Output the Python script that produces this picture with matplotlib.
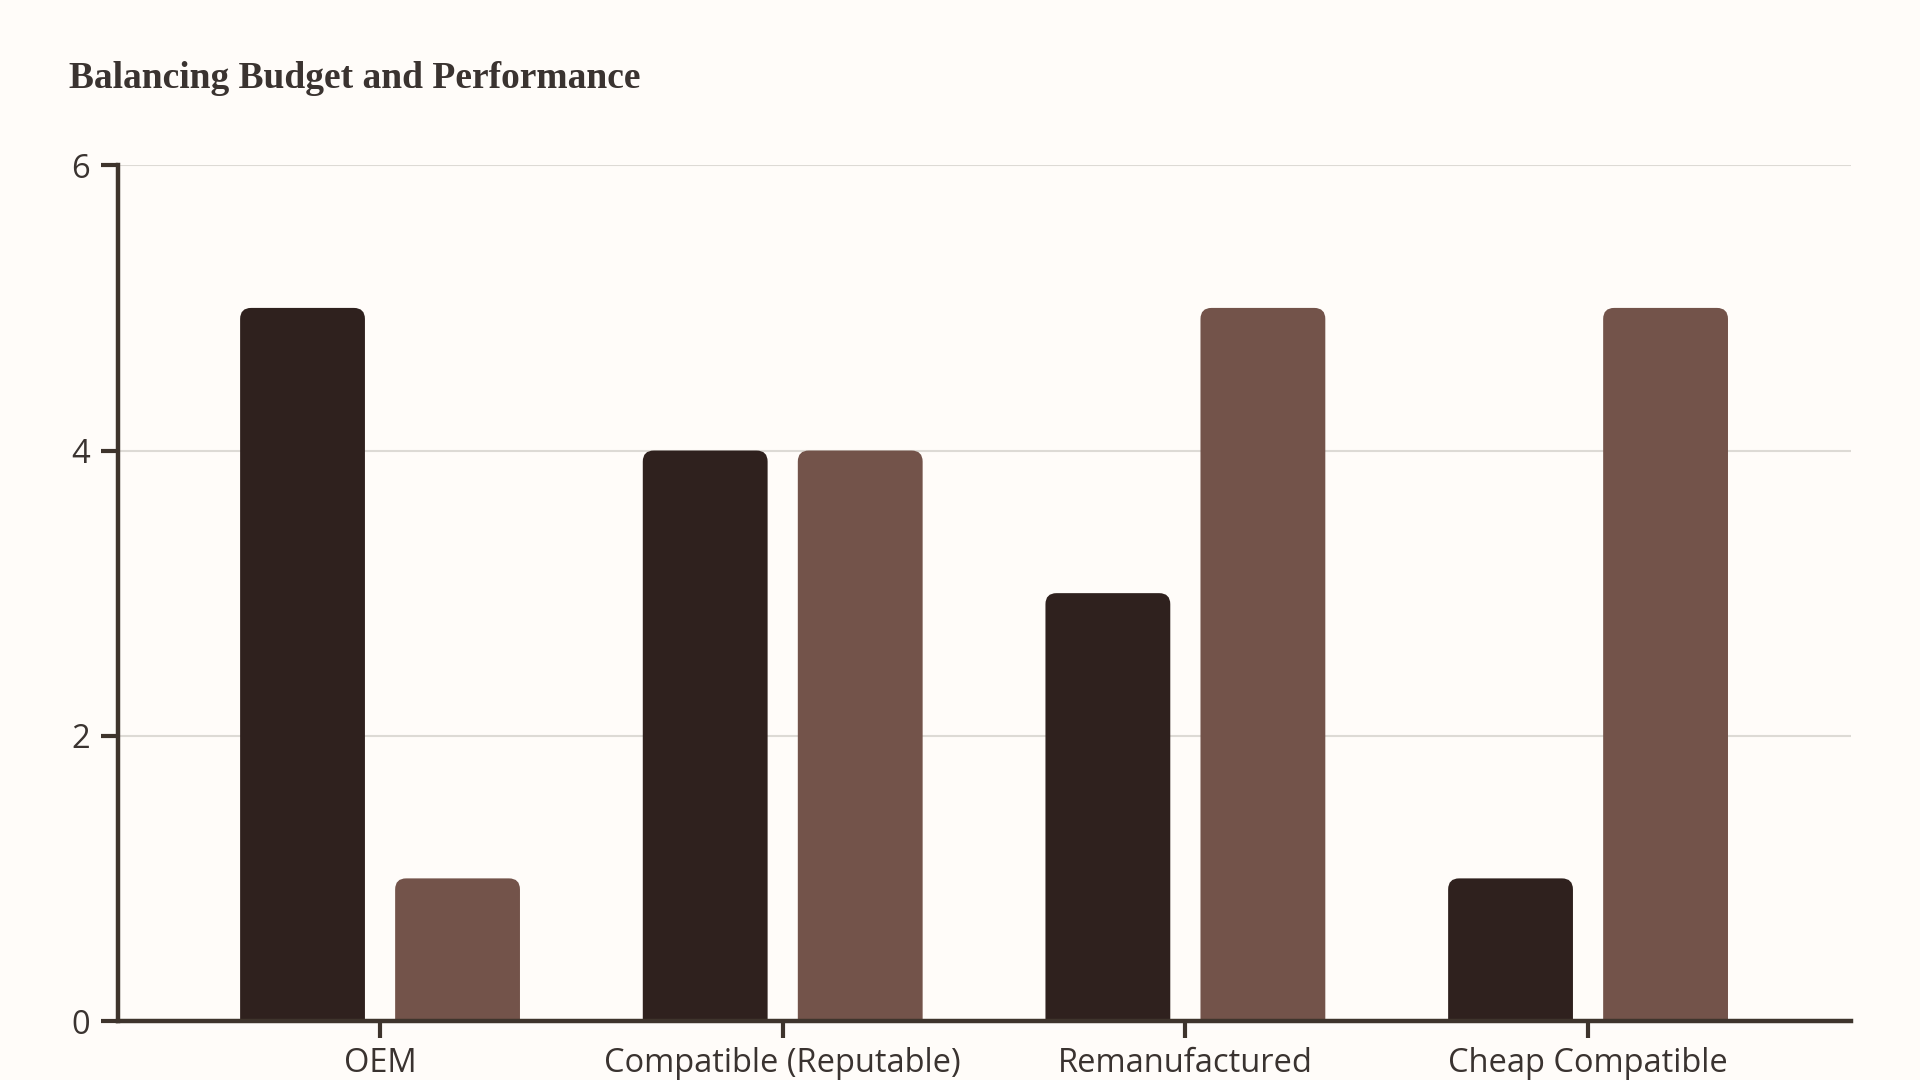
import matplotlib.pyplot as plt
import numpy as np
from matplotlib.patches import FancyBboxPatch

# data
categories = ["OEM", "Compatible (Reputable)", "Remanufactured", "Cheap Compatible"]
performance = [5, 4, 3, 1]
affordability = [1, 4, 5, 5]

BG = "#FFFCF9"
DARK = "#2F211E"
BROWN = "#73534A"
AXIS = "#3E342C"
TEXT = "#3A3330"

fig = plt.figure(figsize=(19.2, 10.8), dpi=100, facecolor=BG)
ax = fig.add_axes([117.5 / 1920, 1 - 1021 / 1080, (1851 - 117.5) / 1920, (1021 - 165.3) / 1080])
ax.set_facecolor(BG)

x = np.arange(len(categories))
w = 0.31
off = 0.1925
bars1 = ax.bar(x - off, performance, w, color=DARK)
bars2 = ax.bar(x + off, affordability, w, color=BROWN)

ax.set_xlim(-0.652, 3.653)
ax.set_ylim(0, 6)

# round the top corners: one patch per bar, its lower corners hidden below the axis
fig.canvas.draw()
p0 = ax.transData.transform((0, 0))
p1 = ax.transData.transform((1, 1))
px_x = p1[0] - p0[0]
px_y = p1[1] - p0[1]
radius = 11 / px_x
aspect = px_x / px_y
ry = radius * aspect
for bar in list(bars1) + list(bars2):
    bx, by = bar.get_x(), bar.get_y()
    bw, bh = bar.get_width(), bar.get_height()
    col = bar.get_facecolor()
    bar.set_visible(False)
    ax.add_patch(FancyBboxPatch((bx, by - 2 * ry), bw, bh + 2 * ry,
                                boxstyle=f"round,pad=0,rounding_size={radius}",
                                mutation_aspect=aspect, fc=col, ec="none", zorder=1))

ax.set_yticks([0, 2, 4, 6])
ax.set_xticks(x)
ax.set_xticklabels(categories)
ax.grid(axis="y", color="#DDDAD5", linewidth=1.5)
ax.set_axisbelow(True)

for s in ["top", "right"]:
    ax.spines[s].set_visible(False)
for s in ["left", "bottom"]:
    ax.spines[s].set_color(AXIS)
    ax.spines[s].set_linewidth(3.2)

ax.tick_params(axis="both", colors=AXIS, width=3, length=12, labelcolor=TEXT,
               labelsize=23.5)
ax.tick_params(axis="y", pad=8)
ax.tick_params(axis="x", pad=7)
for lab in ax.get_xticklabels() + ax.get_yticklabels():
    lab.set_family("Open Sans")

fig.text(69 / 1920, 1 - 88 / 1080, "Balancing Budget and Performance",
         fontsize=27, fontweight="bold", family="Liberation Serif", color=TEXT,
         ha="left", va="baseline")

fig.savefig("out.png", facecolor=BG)
